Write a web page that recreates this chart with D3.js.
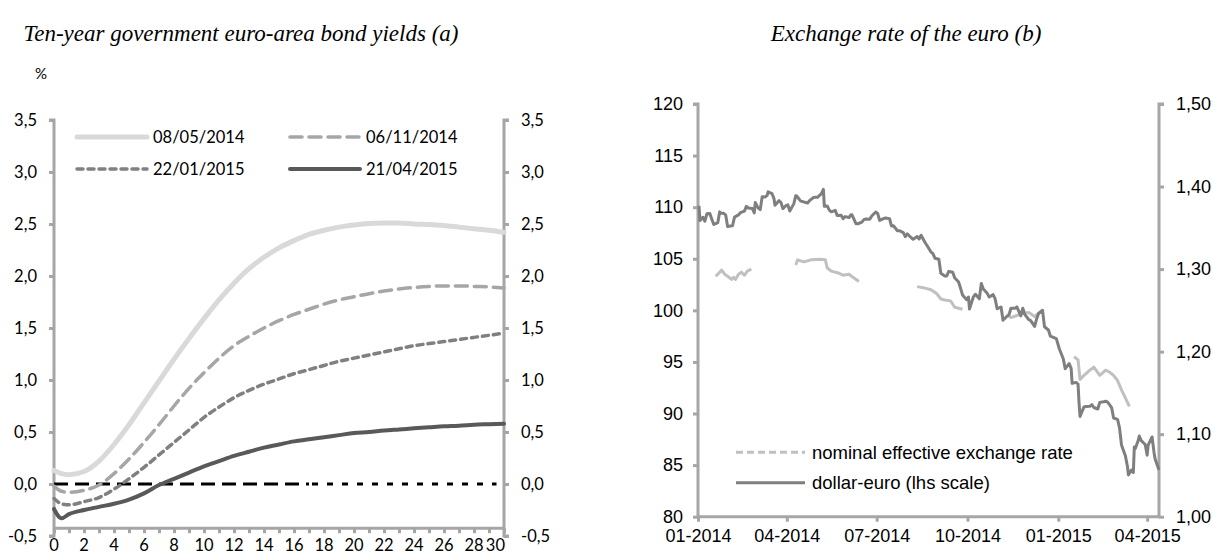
<!DOCTYPE html>
<html><head><meta charset="utf-8">
<script src="https://cdn.jsdelivr.net/npm/d3@7"></script>
<style>body{margin:0;background:#fff}</style>
</head><body><svg id="c" width="1213" height="554"></svg>
<script>
// ---------- Panel (a): yield curves ----------
const maturities = [0,0.5,1,2,3,4,5,6,7,8,9,10,11,12,13,14,15,16,17,18,19,20,21,22,23,24,25,26,27,28,29,30];
const curve20140508 = [0.13,0.10,0.09,0.12,0.22,0.38,0.57,0.78,0.99,1.20,1.40,1.59,1.77,1.93,2.07,2.18,2.27,2.34,2.40,2.44,2.47,2.49,2.505,2.51,2.51,2.50,2.495,2.485,2.47,2.455,2.44,2.42];
const curve20141106 = [-0.02,-0.07,-0.08,-0.06,-0.01,0.10,0.24,0.40,0.57,0.75,0.92,1.07,1.21,1.33,1.42,1.50,1.57,1.63,1.68,1.73,1.77,1.80,1.83,1.855,1.875,1.89,1.90,1.905,1.905,1.90,1.895,1.885];
const curve20150122 = [-0.14,-0.19,-0.20,-0.17,-0.13,-0.05,0.05,0.16,0.28,0.40,0.52,0.64,0.74,0.83,0.90,0.96,1.01,1.06,1.10,1.14,1.18,1.21,1.24,1.27,1.30,1.33,1.35,1.37,1.39,1.41,1.43,1.45];
const curve20150421 = [-0.24,-0.33,-0.29,-0.25,-0.22,-0.19,-0.15,-0.09,-0.01,0.05,0.11,0.17,0.22,0.27,0.31,0.35,0.38,0.41,0.43,0.45,0.47,0.49,0.50,0.515,0.525,0.535,0.545,0.555,0.56,0.57,0.575,0.58];
const curveLabels = ["08/05/2014","06/11/2014","22/01/2015","21/04/2015"];
const yieldTicks = [-0.5,0,0.5,1,1.5,2,2.5,3,3.5];
const maturityTicks = d3.range(0,31,1);
const maturityLabels = d3.range(0,31,2);

// ---------- Panel (b): exchange rates ----------
const usdDates = ["2014-01-02","2014-01-03","2014-01-06","2014-01-08","2014-01-10","2014-01-13","2014-01-15","2014-01-17","2014-01-21","2014-01-23","2014-01-24","2014-01-27","2014-01-29","2014-01-31","2014-02-03","2014-02-05","2014-02-07","2014-02-11","2014-02-13","2014-02-17","2014-02-19","2014-02-21","2014-02-25","2014-02-27","2014-02-28","2014-03-03","2014-03-05","2014-03-07","2014-03-10","2014-03-12","2014-03-13","2014-03-17","2014-03-19","2014-03-20","2014-03-24","2014-03-26","2014-03-28","2014-03-31","2014-04-02","2014-04-04","2014-04-08","2014-04-10","2014-04-11","2014-04-15","2014-04-17","2014-04-22","2014-04-24","2014-04-28","2014-04-30","2014-05-02","2014-05-06","2014-05-08","2014-05-09","2014-05-12","2014-05-14","2014-05-16","2014-05-20","2014-05-22","2014-05-26","2014-05-28","2014-05-30","2014-06-03","2014-06-05","2014-06-06","2014-06-10","2014-06-12","2014-06-16","2014-06-18","2014-06-20","2014-06-24","2014-06-26","2014-06-30","2014-07-02","2014-07-04","2014-07-08","2014-07-10","2014-07-14","2014-07-16","2014-07-18","2014-07-22","2014-07-24","2014-07-28","2014-07-30","2014-08-01","2014-08-05","2014-08-07","2014-08-11","2014-08-13","2014-08-15","2014-08-19","2014-08-21","2014-08-25","2014-08-27","2014-08-29","2014-09-02","2014-09-04","2014-09-08","2014-09-10","2014-09-12","2014-09-16","2014-09-18","2014-09-22","2014-09-24","2014-09-26","2014-09-30","2014-10-02","2014-10-03","2014-10-07","2014-10-09","2014-10-13","2014-10-15","2014-10-17","2014-10-21","2014-10-23","2014-10-27","2014-10-29","2014-10-31","2014-11-04","2014-11-06","2014-11-10","2014-11-12","2014-11-14","2014-11-18","2014-11-20","2014-11-24","2014-11-26","2014-11-28","2014-12-02","2014-12-04","2014-12-08","2014-12-10","2014-12-12","2014-12-16","2014-12-18","2014-12-22","2014-12-24","2014-12-30","2015-01-02","2015-01-06","2015-01-08","2015-01-12","2015-01-14","2015-01-15","2015-01-19","2015-01-21","2015-01-22","2015-01-23","2015-01-27","2015-01-29","2015-02-02","2015-02-04","2015-02-06","2015-02-10","2015-02-12","2015-02-16","2015-02-18","2015-02-20","2015-02-24","2015-02-26","2015-03-02","2015-03-04","2015-03-06","2015-03-10","2015-03-12","2015-03-13","2015-03-16","2015-03-18","2015-03-19","2015-03-20","2015-03-23","2015-03-24","2015-03-26","2015-03-30","2015-04-01","2015-04-02","2015-04-06","2015-04-08","2015-04-09","2015-04-13"];
const usdValues = [1.3767,1.3587,1.3628,1.3580,1.3669,1.3672,1.3605,1.3540,1.3562,1.3693,1.3677,1.3675,1.3657,1.3516,1.3523,1.3525,1.3630,1.3656,1.3683,1.3703,1.3760,1.3740,1.3734,1.3681,1.3806,1.3738,1.3720,1.3875,1.3874,1.3890,1.3935,1.3913,1.3853,1.3774,1.3829,1.3808,1.3732,1.3768,1.3778,1.3703,1.3790,1.3888,1.3885,1.3823,1.3818,1.3800,1.3830,1.3867,1.3869,1.3869,1.3915,1.3965,1.3760,1.3763,1.3714,1.3694,1.3711,1.3649,1.3651,1.3611,1.3636,1.3624,1.3659,1.3658,1.3550,1.3549,1.3568,1.3599,1.3606,1.3605,1.3643,1.3691,1.3673,1.3589,1.3611,1.3620,1.3611,1.3522,1.3525,1.3464,1.3465,1.3442,1.3392,1.3426,1.3379,1.3362,1.3394,1.3364,1.3409,1.3322,1.3285,1.3206,1.3188,1.3132,1.3119,1.2950,1.2917,1.2916,1.2972,1.2961,1.2895,1.2844,1.2766,1.2686,1.2630,1.2662,1.2516,1.2664,1.2695,1.2640,1.2825,1.2759,1.2706,1.2662,1.2690,1.2640,1.2520,1.2540,1.2380,1.2428,1.2445,1.2526,1.2524,1.2542,1.2433,1.2525,1.2452,1.2389,1.2376,1.2305,1.2394,1.2463,1.2501,1.2301,1.2262,1.2187,1.2158,1.2035,1.1914,1.1793,1.1855,1.1797,1.1615,1.1627,1.1606,1.1379,1.1214,1.1330,1.1335,1.1337,1.1357,1.1323,1.1305,1.1385,1.1393,1.1399,1.1389,1.1322,1.1196,1.1180,1.1077,1.0870,1.0734,1.0612,1.0506,1.0566,1.0536,1.0845,1.0826,1.0926,1.0977,1.0922,1.0874,1.0746,1.0866,1.0966,1.0776,1.0701,1.0565];
const neerDates = ["2014-01-19","2014-01-22","2014-01-25","2014-01-28","2014-01-31","2014-02-04","2014-02-06","2014-02-08","2014-02-11","2014-02-14","2014-02-17","2014-02-20","2014-02-24","2014-03-01","2014-04-10","2014-04-12","2014-04-18","2014-04-26","2014-05-04","2014-05-10","2014-05-12","2014-05-16","2014-05-24","2014-05-28","2014-06-03","2014-06-07","2014-06-13","2014-07-01","2014-08-11","2014-08-17","2014-08-25","2014-08-31","2014-09-04","2014-09-08","2014-09-14","2014-09-18","2014-09-22","2014-09-26","2014-10-15","2014-11-10","2014-11-14","2014-11-20","2014-11-26","2014-12-02","2014-12-08","2014-12-12","2014-12-16","2015-01-01","2015-01-17","2015-01-21","2015-01-23","2015-01-27","2015-02-02","2015-02-06","2015-02-12","2015-02-18","2015-02-22","2015-02-26","2015-03-02","2015-03-06","2015-03-10","2015-03-14"];
const neerValues = [103.3,103.6,103.9,103.5,103.3,103.0,103.2,103.0,103.5,103.7,103.4,103.8,104.0,null,104.4,104.9,104.7,104.9,104.95,104.9,104.1,103.8,103.6,103.4,103.5,103.2,102.8,null,102.3,102.2,102.0,101.6,101.1,101.0,100.9,100.3,100.2,100.1,null,99.6,99.3,99.5,99.7,99.8,99.4,99.7,99.9,null,95.5,95.2,93.3,93.7,94.2,94.5,93.7,94.2,94.0,93.7,93.2,92.3,91.5,90.7];
const lhsTicks = [80,85,90,95,100,105,110,115,120];
const rhsTicks = [1.0,1.1,1.2,1.3,1.4,1.5];
const quarterTicks = ["2014-01-01","2014-04-01","2014-07-01","2014-10-01","2015-01-01","2015-04-01"];
const fxLabels = ["nominal effective exchange rate","dollar-euro (lhs scale)"];

const svg = d3.select("#c");
const AX = "#a6a6a6";
const comma = (f) => (v) => d3.format(f)(v).replace(".", ",").replace("−","-");
const titleFont = "'Liberation Serif','Times New Roman',serif";

// ====== Panel (a) ======
const lf = "Lato, 'Open Sans', sans-serif";
const xa = d3.scaleLinear().domain([0,30]).range([54,504]);
const ya = d3.scaleLinear().domain([-0.5,3.5]).range([536,120]);
const ga = svg.append("g");

ga.append("text").attr("x",241).attr("y",41).attr("text-anchor","middle")
  .attr("font-family",titleFont).attr("font-style","italic")
  .attr("font-size",23).text("Ten-year government euro-area bond yields (a)");
ga.append("text").attr("x",41).attr("y",79).attr("text-anchor","middle")
  .attr("font-family",lf).attr("font-size",15).text("%");

// left / right axes
const axL = ga.append("g").attr("transform",`translate(${xa(0)},0)`)
  .call(d3.axisLeft(ya).tickValues(yieldTicks).tickSize(5).tickPadding(12).tickFormat(comma(".1f")));
const axR = ga.append("g").attr("transform",`translate(${xa(30)},0)`)
  .call(d3.axisRight(ya).tickValues(yieldTicks).tickSize(5).tickPadding(12).tickFormat(comma(".1f")));
[axL,axR].forEach(a=>{
  const s = a===axL ? -5 : 5;
  a.select(".domain").attr("d", `M${s},${ya(3.5)}H0V${ya(-0.5)}H${s}`)
    .attr("stroke",AX).attr("stroke-width",3).attr("fill","none");
  a.selectAll(".tick line").attr("stroke",AX).attr("stroke-width",3);
  a.selectAll(".tick text").attr("font-family",lf).attr("font-size",16.5).attr("fill","#000");
});
// bottom axis
const xAxisY = ya(-0.425);
const axB = ga.append("g").attr("transform",`translate(0,${xAxisY})`)
  .call(d3.axisBottom(xa).tickValues(maturityTicks).tickSize(5).tickFormat(""));
axB.select(".domain").attr("d",`M${xa(0)},0H${xa(30)}`).attr("stroke",AX).attr("stroke-width",3);
axB.selectAll(".tick line").attr("stroke",AX).attr("stroke-width",3);
ga.append("g").selectAll("text").data(maturityLabels).join("text")
  .attr("x",d=> d===30 ? xa(d)+1 : xa(d)).attr("y",551)
  .attr("text-anchor",d=> d===30 ? "end" : "middle")
  .attr("font-family",lf).attr("font-size",16.5).text(d=>d);

// zero line: long dashes on the short end, short dashes on the long end
const zeroLine = d3.line().x(d=>xa(d)).y(()=>ya(0));
ga.append("path").attr("d",zeroLine([0,17]))
  .attr("stroke","#000").attr("stroke-width",3).attr("stroke-dasharray","14,7");
ga.append("path").attr("d",zeroLine([17.2,29.5]))
  .attr("stroke","#000").attr("stroke-width",3).attr("stroke-dasharray","6,9");

const curves = [curve20140508,curve20141106,curve20150122,curve20150421];
const cStyle = [
  {c:"#d9d9d9",w:5,d:null},
  {c:"#a6a6a6",w:3.5,d:"12,7"},
  {c:"#808080",w:3.5,d:"6,5"},
  {c:"#595959",w:4,d:null}];
const lineA = d3.line().x(d=>xa(d[0])).y(d=>ya(d[1])).curve(d3.curveMonotoneX);
curves.forEach((cv,i)=>{
  ga.append("path").attr("d",lineA(maturities.map((m,j)=>[m,cv[j]])))
    .attr("fill","none").attr("stroke",cStyle[i].c).attr("stroke-width",cStyle[i].w)
    .attr("stroke-dasharray",cStyle[i].d).attr("stroke-linecap","round");
});
// legend
const legPos = [[77,137],[290,137],[77,169],[290,169]];
curveLabels.forEach((lab,i)=>{
  const [lx,ly] = legPos[i];
  ga.append("line").attr("x1",lx).attr("x2",lx+70).attr("y1",ly).attr("y2",ly)
    .attr("stroke",cStyle[i].c).attr("stroke-width",cStyle[i].w).attr("stroke-dasharray",cStyle[i].d)
    .attr("stroke-linecap","round");
  ga.append("text").attr("x",lx+76).attr("y",ly).attr("dy","0.35em")
    .attr("font-family",lf).attr("font-size",16.5).text(lab);
});

// ====== Panel (b) ======
const af = "'Liberation Sans', Arial, sans-serif";
const pd = d3.timeParse("%Y-%m-%d");
const xb = d3.scaleTime().domain([pd("2014-01-01"),pd("2015-04-13")]).range([698,1159]);
const ybL = d3.scaleLinear().domain([80,120]).range([516.7,104]);
const ybR = d3.scaleLinear().domain([1.0,1.5]).range([516.7,104]);
const gb = svg.append("g");
gb.append("text").attr("x",906).attr("y",41).attr("text-anchor","middle")
  .attr("font-family",titleFont).attr("font-style","italic")
  .attr("font-size",23).text("Exchange rate of the euro (b)");

const bL = gb.append("g").attr("transform",`translate(${xb.range()[0]},0)`)
  .call(d3.axisLeft(ybL).tickValues(lhsTicks).tickSize(5).tickPadding(10).tickFormat(d3.format("d")));
const bR = gb.append("g").attr("transform",`translate(${xb.range()[1]},0)`)
  .call(d3.axisRight(ybR).tickValues(rhsTicks).tickSize(5).tickPadding(12).tickFormat(comma(".2f")));
[bL,bR].forEach(a=>{
  const s = a===bL ? -5 : 5;
  a.select(".domain").attr("d", `M${s},${ybL(120)}H0V${ybL(80)}`)
    .attr("stroke",AX).attr("stroke-width",3).attr("fill","none");
  a.selectAll(".tick line").attr("stroke",AX).attr("stroke-width",3);
  a.selectAll(".tick text").attr("font-family",af).attr("font-size",18).attr("fill","#000");
});
const bB = gb.append("g").attr("transform",`translate(0,${ybL(80)})`)
  .call(d3.axisBottom(xb).tickValues(quarterTicks.map(pd)).tickSize(5).tickPadding(8).tickFormat(d3.timeFormat("%m-%Y")));
bB.select(".domain").attr("d",`M${xb.range()[0]},0H${xb.range()[1]}`).attr("stroke",AX).attr("stroke-width",3);
bB.selectAll(".tick line").attr("stroke",AX).attr("stroke-width",3);
bB.selectAll(".tick text").attr("font-family",af).attr("font-size",18).attr("fill","#000");

const neerData = neerDates.map((d,i)=>({d:pd(d),v:neerValues[i]}));
const usdData = usdDates.map((d,i)=>({d:pd(d),v:usdValues[i]}));
gb.append("path").attr("d",d3.line().defined(p=>p.v!=null).x(p=>xb(p.d)).y(p=>ybL(p.v))(neerData))
  .attr("fill","none").attr("stroke","#c0c0c0").attr("stroke-width",3).attr("stroke-linejoin","round");
gb.append("path").attr("d",d3.line().x(p=>xb(p.d)).y(p=>ybR(p.v))(usdData))
  .attr("fill","none").attr("stroke","#7f7f7f").attr("stroke-width",3).attr("stroke-linejoin","round");

const fxStyle = [{c:"#c0c0c0",d:"7,4"},{c:"#7f7f7f",d:null}];
fxLabels.forEach((lab,i)=>{
  const ly = i===0 ? 452.3 : 482.7;
  gb.append("line").attr("x1",736).attr("x2",805).attr("y1",ly).attr("y2",ly)
    .attr("stroke",fxStyle[i].c).attr("stroke-width",3).attr("stroke-dasharray",fxStyle[i].d);
  gb.append("text").attr("x",812).attr("y",ly).attr("dy","0.35em")
    .attr("font-family",af).attr("font-size",18.5).text(lab);
});
</script></body></html>
